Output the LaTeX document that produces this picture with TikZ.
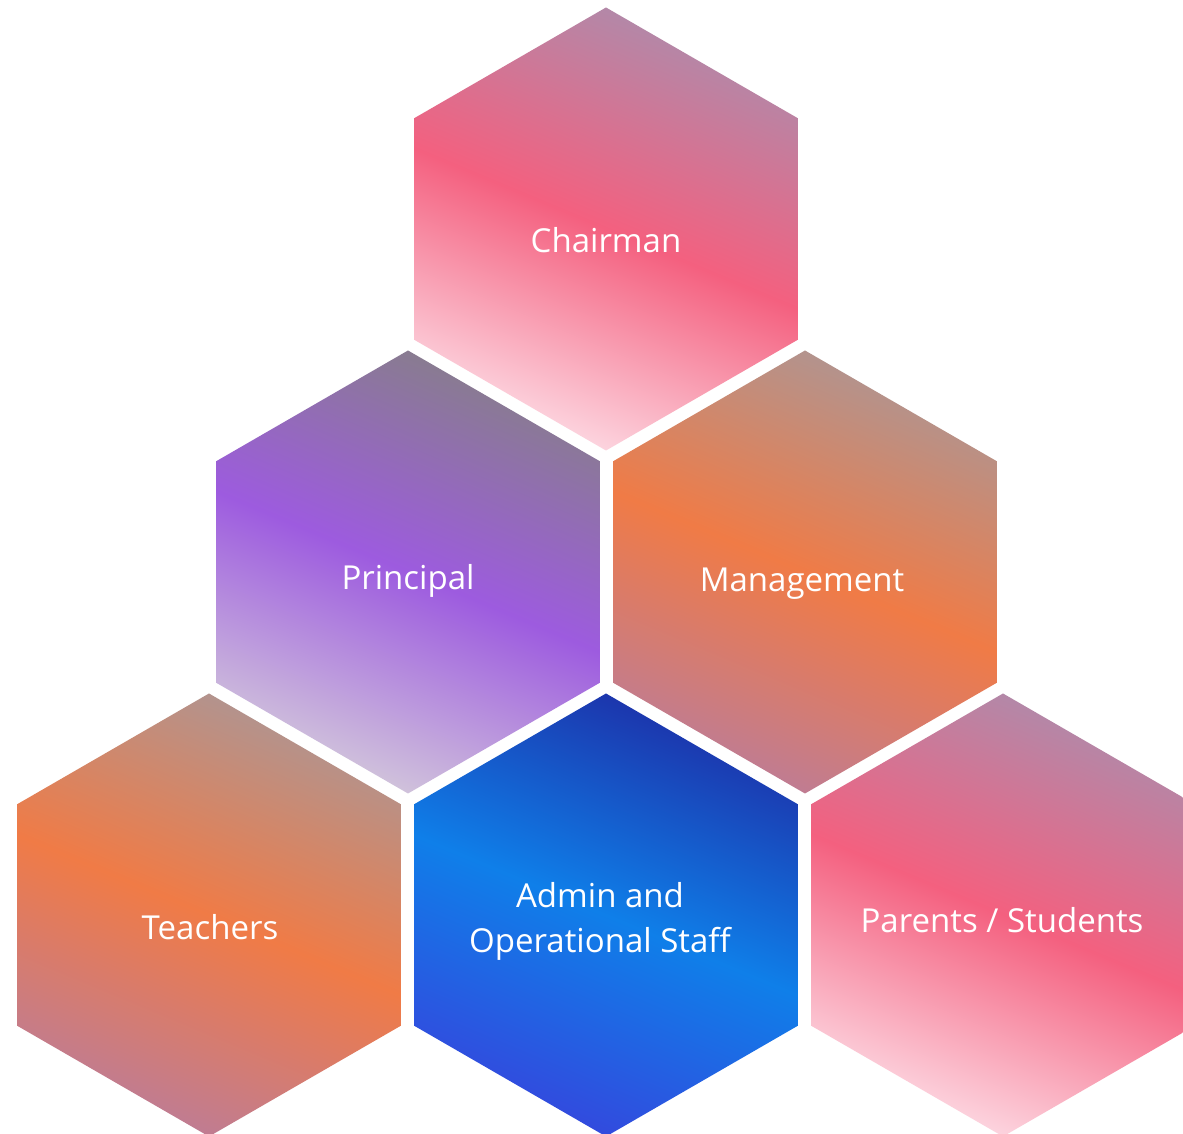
\documentclass[tikz,border=0pt]{standalone}
\usepackage{fontspec}
\setmainfont{Open Sans}
\definecolor{pkTop}{HTML}{AE8BAB}
\definecolor{pkMid}{HTML}{F4607F}
\definecolor{pkBot}{HTML}{FDDDE6}
\definecolor{puTop}{HTML}{877E8A}
\definecolor{puMid}{HTML}{9D5BDF}
\definecolor{puBot}{HTML}{D4CADB}
\definecolor{orTop}{HTML}{AE9593}
\definecolor{orMid}{HTML}{F07B46}
\definecolor{orBot}{HTML}{BC7C98}
\definecolor{blTop}{HTML}{1D30A8}
\definecolor{blMid}{HTML}{0F7FE9}
\definecolor{blBot}{HTML}{3546DD}
\def\hexR{221.5}
\newcommand{\hexcell}[5]{%
  \begin{scope}
    \clip (#1,#2) +(90:\hexR) -- +(150:\hexR) -- +(210:\hexR) -- +(270:\hexR) -- +(330:\hexR) -- +(30:\hexR) -- cycle;
    \shade[top color=#3, bottom color=#5, middle color=#4, shading angle=-22.7]
      (#1-\hexR,#2-\hexR) rectangle (#1+\hexR,#2+\hexR);
  \end{scope}}
\tikzset{lbl/.style={text=white, font=\fontsize{33}{45}\selectfont, align=center, inner sep=0pt}}
\begin{document}
\begin{tikzpicture}[x=1pt,y=1pt]
\clip (0,0) rectangle (1183,1134);
\fill[white] (0,0) rectangle (1183,1134);
% rows: y(px) 229, 572, 915 -> tikz 905, 562, 219
\hexcell{606}{905}{pkTop}{pkMid}{pkBot}
\hexcell{408}{562}{puTop}{puMid}{puBot}
\hexcell{805}{562}{orTop}{orMid}{orBot}
\hexcell{209}{219}{orTop}{orMid}{orBot}
\hexcell{606}{219}{blTop}{blMid}{blBot}
\hexcell{1003}{219}{pkTop}{pkMid}{pkBot}
\node[lbl, anchor=base] (chair) at (606,881) {Chairman};
\node[lbl, anchor=base] (princ) at (408,544) {Principal};
\node[lbl, anchor=base] (mgmt) at (802,542) {Management};
\node[lbl, anchor=base] (teach) at (210,194) {Teachers};
\node[lbl, anchor=center] (admin) at (600,213) {Admin and\\Operational Staff};
\node[lbl, anchor=base] (parents) at (1002,201) {Parents / Students};
\end{tikzpicture}
\end{document}
